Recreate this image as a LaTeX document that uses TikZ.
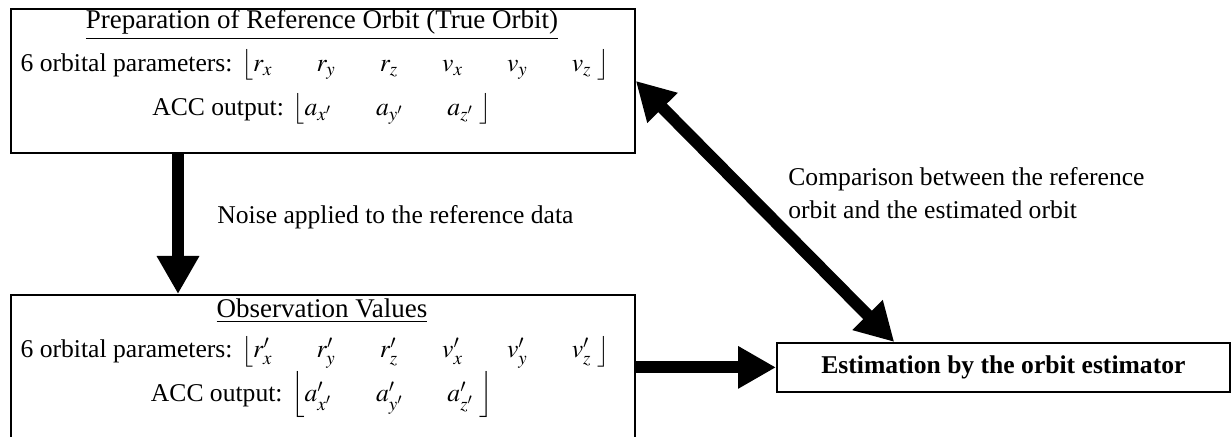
\documentclass[tikz,border=0pt]{standalone}
\usepackage{mathptmx}
\usepackage[no-math]{fontspec}
\setmainfont{Liberation Serif}
\usetikzlibrary{arrows.meta, calc, math}

\newcommand{\sep}{\hspace{22pt}}

\begin{document}
\begin{tikzpicture}[x=0.5pt,y=-0.5pt,
  box/.style={draw, line width=0.9pt, inner sep=0pt},
  txt/.style={inner sep=0pt, font=\fontsize{12.8}{16.5}\selectfont},
  head/.style={inner sep=0pt, font=\fontsize{13.5}{16}\selectfont},
  fat/.style={line width=6pt, -{Triangle[length=19pt,width=20pt]}},
  fatboth/.style={line width=6pt, {Triangle[length=19pt,width=20pt]}-{Triangle[length=19pt,width=20pt]}}]
\tikzmath{
\cx=322;
}
\useasboundingbox (0,0) rectangle (1231,437);

% reference orbit
\node[box, anchor=north west, minimum width=312pt, minimum height=72pt] (truebox) at (10,8) {};
\node[head] (truetitle) at (\cx,25) {\underline{Preparation of Reference Orbit (True Orbit)}};
\node[txt] (truepar) at (\cx-7,65) {6 orbital parameters: $\left\lfloor r_x \sep r_y \sep r_z \sep v_x \sep v_y \sep v_z \;\right\rfloor$};
\node[txt] (trueacc) at (\cx,109) {ACC output: $\left\lfloor a_{x'} \sep a_{y'} \sep a_{z'} \;\right\rfloor$};

% observation values (bottom edge runs off the page)
\node[box, anchor=north west, minimum width=312pt, minimum height=90pt] (obsbox) at (10,294) {};
\node[head] (obstitle) at (\cx,311) {\underline{Observation Values}};
\node[txt] (obspar) at (\cx-7,352) {6 orbital parameters: $\left\lfloor r'_x \sep r'_y \sep r'_z \sep v'_x \sep v'_y \sep v'_z \;\right\rfloor$};
\node[txt] (obsacc) at (\cx,395) {ACC output: $\left\lfloor a'_{x'} \sep a'_{y'} \sep a'_{z'} \;\right\rfloor$};

% estimator
\node[box, anchor=north west, minimum width=226.5pt, minimum height=24.5pt] (est) at (776,342) {};
\node[txt] (esttext) at (est.center) {\textbf{Estimation by the orbit estimator}};

% labels
\node[txt, anchor=west] (noise) at (217,217) {Noise applied to the reference data};
\node[txt, anchor=west, align=left] (compare) at (788,193) {Comparison between the reference\\orbit and the estimated orbit};

% arrows
\coordinate (drop) at (178,0);
\draw[fat] (truebox.south -| drop) -- (obsbox.north -| drop);
\draw[fat] (obsbox.east |- est.west) -- (est.west);
\draw[fatboth] (truebox.east) -- ($(est.north west)!0.26!(est.north east)$);
\end{tikzpicture}
\end{document}
